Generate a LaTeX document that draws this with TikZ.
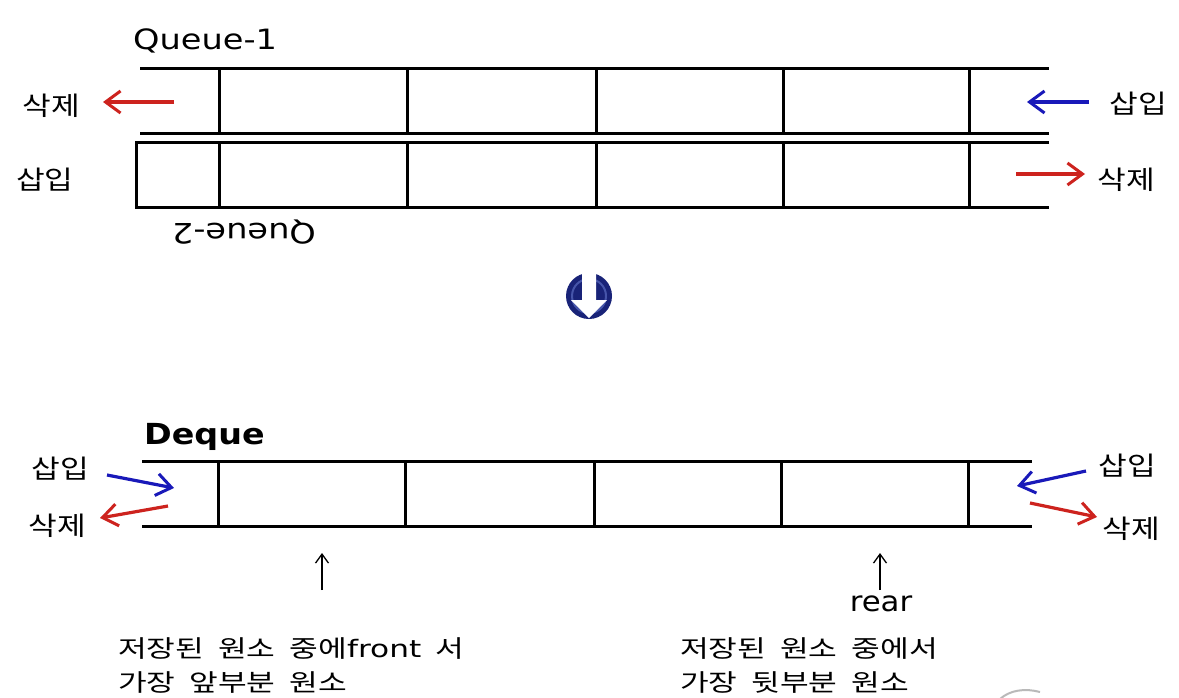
\documentclass[tikz,border=0pt]{standalone}
\usepackage{fontspec}
\usepackage{graphicx}
\setmainfont{DejaVu Sans}
\newfontfamily\kr{Noto Sans CJK KR}
\newfontfamily\lat{DejaVu Sans}
\usetikzlibrary{arrows.meta}
\definecolor{dred}{RGB}{205,35,30}
\definecolor{dblue}{RGB}{25,25,185}
\definecolor{navy}{RGB}{25,35,120}
\definecolor{navyhi}{RGB}{70,85,170}
\newcommand{\sx}[1]{\scalebox{1.2}[1]{#1}}
\newcommand{\sxb}[1]{\scalebox{1.3}[1]{#1}}
\begin{document}
\begin{tikzpicture}[x=1pt,y=-1pt,
  bar/.style={line width=3pt, line cap=butt, line join=miter},
  kor/.style={font=\kr\fontsize{26}{34}\selectfont, inner sep=0pt, align=left},
  kord/.style={font=\kr\fontsize{24}{34}\selectfont, inner sep=0pt, align=left},
  latlbl/.style={font=\lat\fontsize{28}{30}\selectfont, inner sep=0pt},
  redarr/.style={draw=dred, line width=3.2pt, -{Straight Barb[length=15pt,width=22pt,line width=3pt]}},
  bluearr/.style={draw=dblue, line width=3.2pt, -{Straight Barb[length=15pt,width=22pt,line width=3pt]}},
  ptr/.style={draw=black, line width=1.3pt, -{Straight Barb[length=9pt,width=13pt,line width=1.3pt]}}
]
\useasboundingbox (0,0) rectangle (1179,697);
\fill[white] (0,0) rectangle (1179,697);

% Queue-1
\draw[bar] (140,68) -- (1049,68);
\draw[bar] (140,133) -- (1049,133);
\foreach \x in {219,407,596,783,969} \draw[bar] (\x,68) -- (\x,133);
% Queue-2
\draw[bar] (1049,142) -- (136,142) -- (136,207) -- (1049,207);
\foreach \x in {219,407,596,783,969} \draw[bar] (\x,142) -- (\x,207);
% Deque
\draw[bar] (142,461) -- (1032,461);
\draw[bar] (142,526) -- (1032,526);
\foreach \x in {218,405,594,781,968} \draw[bar] (\x,461) -- (\x,526);

% titles
\node[latlbl, anchor=base west] (q1) at (133,49) {\scalebox{1.2}[1]{Queue-1}};
\node[latlbl, rotate=180] (q2) at (244,232) {\scalebox{1.2}[1]{Queue-2}};
\node[font=\lat\bfseries\fontsize{29}{32}\selectfont, inner sep=0pt, anchor=base west] (dq) at (144,444) {\scalebox{1.15}[1]{Deque}};

% Queue-1 labels and arrows
\node[kor] (q1del) at (51,106) {\sx{삭제}};
\coordinate (q1dS) at (174,102); \coordinate (q1dE) at (103,102);
\draw[redarr] (q1dS) -- (q1dE);
\node[kor] (q1ins) at (1138,104) {\sx{삽입}};
\coordinate (q1iS) at (1089,102); \coordinate (q1iE) at (1027,102);
\draw[bluearr] (q1iS) -- (q1iE);

% Queue-2 labels and arrows
\node[kor] (q2ins) at (45,180) {\sx{삽입}};
\node[kor] (q2del) at (1126,180) {\sx{삭제}};
\coordinate (q2dS) at (1016,174); \coordinate (q2dE) at (1085,174);
\draw[redarr] (q2dS) -- (q2dE);

% down icon
\fill[navy] (589,296) circle (23);
\draw[navyhi, line width=2pt] (589,296) circle (17);
\fill[white] (582,271) -- (596,271) -- (596,300) -- (607,300) -- (589,318) -- (571,300) -- (582,300) -- cycle;

% Deque labels and arrows
\node[kor] (dlins) at (60,469) {\sx{삽입}};
\coordinate (dliS) at (107,475); \coordinate (dliE) at (174,488);
\draw[bluearr] (dliS) -- (dliE);
\node[kor] (dldel) at (57,526) {\sx{삭제}};
\coordinate (dldS) at (168,506); \coordinate (dldE) at (100,518);
\draw[redarr] (dldS) -- (dldE);
\node[kor] (drins) at (1127,466) {\sx{삽입}};
\coordinate (driS) at (1086,471); \coordinate (driE) at (1017,486);
\draw[bluearr] (driS) -- (driE);
\node[kor] (drdel) at (1131,529) {\sx{삭제}};
\coordinate (drdS) at (1030,503); \coordinate (drdE) at (1097,517);
\draw[redarr] (drdS) -- (drdE);

% pointers
\coordinate (fS) at (322,590); \coordinate (fE) at (322,553);
\draw[ptr] (fS) -- (fE);
\node[latlbl] (rear) at (881,604) {\scalebox{1.1}[1]{rear}};
\coordinate (rE) at (880,553);
\draw[ptr] (880,590) -- (rE);

% bottom descriptions
\node[kord, anchor=west] (ftxt) at (118,666) {\sxb{저장된\ \ 원소\ \ 중에{\lat front}\ \ 서}\\[0pt]\sxb{가장\ \ 앞부분\ \ 원소}};
\node[kord, anchor=west] (rtxt) at (680,666) {\sxb{저장된\ \ 원소\ \ 중에서}\\[0pt]\sxb{가장\ \ 뒷부분\ \ 원소}};

% partial gray mark at bottom edge
\draw[gray!55, line width=2pt] (1000,699) .. controls (1010,690) and (1025,688) .. (1040,692);
\end{tikzpicture}
\end{document}
